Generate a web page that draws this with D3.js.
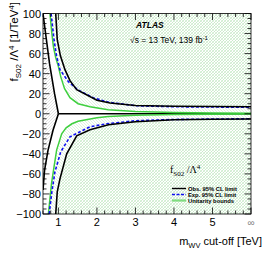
<!DOCTYPE html>
<html><head><meta charset="utf-8">
<script src="https://cdn.jsdelivr.net/npm/d3@7"></script>
<style>body{margin:0;background:#fff}svg{display:block}text{font-family:"Liberation Sans",Arial,sans-serif}</style>
</head><body>
<svg id="c" width="266" height="255"></svg>
<script>
// ---- data ----
const xTickVals = [1, 2, 3, 4, 5, 6];
const xTickLabels = ["1", "2", "3", "4", "5", "\u221E"];
const yTickVals = [-100, -80, -60, -40, -20, 0, 20, 40, 60, 80, 100];
const cutoffObsUpper = [0.93, 0.97, 1.05, 1.17, 1.3, 1.475, 2.0, 2.34, 3, 4, 5, 6];
const obsUpper       = [100, 74, 58, 44, 33, 24, 13.5, 10.7, 8.2, 7.5, 7.2, 7];
const cutoffObsLower = [0.93, 0.97, 1.04, 1.215, 1.475, 1.82, 2.3, 3, 4, 5, 6];
const obsLower       = [-100, -78, -65, -40, -22, -16, -11, -8, -6, -5.5, -5.2];
const cutoffExpUpper = [0.81, 0.886, 0.95, 1.04, 1.26, 1.5, 1.9, 2.3, 3, 4, 5, 6];
const expUpper       = [100, 74, 58, 44, 32, 24, 16, 11.5, 8, 7, 6.7, 6.5];
const cutoffExpLower = [0.76, 0.83, 0.91, 1.06, 1.3, 1.82, 2.25, 3, 4, 5, 6];
const expLower       = [-100, -78, -58, -38, -23, -13, -10, -7, -5.7, -5.3, -5];
const cutoffUnitUpper = [0.78, 0.83, 0.87, 0.93, 1.0, 1.06, 1.16, 1.3, 1.51, 1.82, 2.29, 3, 4, 5, 6];
const unitUpper       = [100, 80, 67, 56, 47, 37, 25, 16, 10, 7, 4, 2.2, 1.2, 0.7, 0.5];
const cutoffUnitLower = [0.74, 0.82, 0.89, 0.955, 1.085, 1.2, 1.35, 1.51, 2.0, 2.29, 3, 4, 5, 6];
const unitLower       = [-100, -70, -52, -36, -20, -14, -10, -7.5, -4, -2.8, -1.5, -0.8, -0.5, -0.3];
const cutoffBoundUpper = [0.6, 0.69, 0.77, 0.9, 1.0];
const boundUpper       = [100, 73.5, 50, 20, 0];
const cutoffBoundLower = [1.0, 0.86, 0.73, 0.64, 0.6];
const boundLower       = [0, -16.5, -36.5, -56.5, -76];

const zip = (a, b) => a.map((v, i) => [v, b[i]]);

const svg = d3.select("#c");
const L = 43, R = 251, T = 13.5, B = 214;
const x = d3.scaleLinear([0.6, 6], [L, R]);
const y = d3.scaleLinear([-100, 100], [B, T]);

const defs = svg.append("defs");
defs.append("clipPath").attr("id", "clip").append("rect")
  .attr("x", L).attr("y", T).attr("width", R - L).attr("height", B - T);
function hatch(id, color, dir, w) {
  const p = defs.append("pattern").attr("id", id).attr("patternUnits", "userSpaceOnUse")
    .attr("width", 3).attr("height", 3);
  p.append("path").attr("d", dir > 0 ? "M-1,1 L1,-1 M0,3 L3,0 M2,4 L4,2" : "M-1,2 L1,4 M0,0 L3,3 M2,-1 L4,1")
    .attr("stroke", color).attr("stroke-width", w).attr("fill", "none");
}
hatch("hUnit", "#d3eed3", -1, 0.7);
hatch("hExcl", "#bde5bd", 1, 0.7);
hatch("hGrey", "#cfcfcf", 1, 0.6);

const line = d3.line().x(d => x(d[0])).y(d => y(d[1]));
const g = svg.append("g").attr("clip-path", "url(#clip)");

// hatched regions
const unitU = zip(cutoffUnitUpper, unitUpper), unitL = zip(cutoffUnitLower, unitLower);
const obsU = zip(cutoffObsUpper, obsUpper), obsL = zip(cutoffObsLower, obsLower);
const expU = zip(cutoffExpUpper, expUpper), expL = zip(cutoffExpLower, expLower);
const bU = zip(cutoffBoundUpper, boundUpper), bL = zip(cutoffBoundLower, boundLower);

g.append("path").attr("d", line([...unitU, [6, 100]]) + "Z").attr("fill", "url(#hUnit)");
g.append("path").attr("d", line([...unitL, [6, -100]]) + "Z").attr("fill", "url(#hUnit)");
g.append("path").attr("d", line([...obsU, [6, 100]]) + "Z").attr("fill", "url(#hExcl)");
g.append("path").attr("d", line([...obsL, [6, -100]]) + "Z").attr("fill", "url(#hExcl)");
g.append("path").attr("d", line([...bU, ...bL.slice(1), [0.6, -100]]) + "Z").attr("fill", "url(#hGrey)");

// lines
g.append("path").attr("d", line([[1.0, 0], [6, 0]])).attr("stroke", "#000").attr("stroke-width", 1.6).attr("fill", "none");
[unitU, unitL].forEach(d => g.append("path").attr("d", line(d)).attr("stroke", "#3fcf3f").attr("stroke-width", 1.5).attr("fill", "none"));
[expU, expL].forEach(d => g.append("path").attr("d", line(d)).attr("stroke", "#1010f0").attr("stroke-width", 1.6).attr("stroke-dasharray", "3,2").attr("fill", "none"));
[obsU, obsL, bU, bL].forEach(d => g.append("path").attr("d", line(d)).attr("stroke", "#000").attr("stroke-width", 1.6).attr("fill", "none"));

// frame & ticks
const ax = svg.append("g").attr("stroke", "#000").attr("stroke-width", 0.8);
ax.append("rect").attr("x", L).attr("y", T).attr("width", R - L).attr("height", B - T).attr("fill", "none");
const xMinor = d3.range(0.6, 6.001, 0.2);
xMinor.forEach(v => {
  const maj = Math.abs(v - Math.round(v)) < 1e-6;
  const len = maj ? 6.5 : 3.5;
  ax.append("line").attr("x1", x(v)).attr("x2", x(v)).attr("y1", B).attr("y2", B - len);
  ax.append("line").attr("x1", x(v)).attr("x2", x(v)).attr("y1", T).attr("y2", T + len);
});
d3.range(-100, 100.001, 5).forEach(v => {
  const maj = v % 20 === 0;
  const len = maj ? 6.5 : 3.5;
  ax.append("line").attr("x1", L).attr("x2", L + len).attr("y1", y(v)).attr("y2", y(v));
  ax.append("line").attr("x1", R).attr("x2", R - len).attr("y1", y(v)).attr("y2", y(v));
});

// tick labels
xTickVals.forEach((v, i) => {
  svg.append("text").attr("x", x(v)).attr("y", 226).attr("text-anchor", "middle")
    .attr("font-size", i === 5 ? 10 : 11).attr("fill", i === 5 ? "#888" : "#000").text(xTickLabels[i]);
});
yTickVals.forEach(v => {
  svg.append("text").attr("x", 41).attr("y", y(v) + 4).attr("text-anchor", "end")
    .attr("font-size", 11).text(v < 0 ? "\u2212" + Math.abs(v) : String(v));
});

// axis titles
const xt = svg.append("text").attr("x", 262).attr("y", 245).attr("text-anchor", "end").attr("font-size", 11);
xt.append("tspan").text("m");
xt.append("tspan").attr("font-size", 7.5).attr("dy", 2.5).text("WV");
xt.append("tspan").attr("dy", -2.5).text(" cut-off [TeV]");

const yt = svg.append("text").attr("transform", "translate(18,2) rotate(-90)").attr("text-anchor", "end").attr("font-size", 11.5);
yt.append("tspan").text("f");
yt.append("tspan").attr("font-size", 8).attr("dy", 2.5).text("S02");
yt.append("tspan").attr("dy", -2.5).text(" /\u039B");
yt.append("tspan").attr("font-size", 8).attr("dy", -4.5).text("4");
yt.append("tspan").attr("dy", 4.5).text(" [1/TeV");
yt.append("tspan").attr("font-size", 8).attr("dy", -4.5).text("4");
yt.append("tspan").attr("dy", 4.5).text("]");

// ATLAS labels
svg.append("text").attr("x", 136).attr("y", 28).attr("font-size", 8.5).attr("font-weight", "bold").attr("font-style", "italic").text("ATLAS");
const en = svg.append("text").attr("x", 130).attr("y", 43).attr("font-size", 8.5);
en.append("tspan").text("\u221As = 13 TeV, 139 fb");
en.append("tspan").attr("font-size", 6).attr("dy", -3.5).text("-1");

// legend
const lt = svg.append("text").attr("x", 170).attr("y", 173).attr("font-size", 10).style("font-family", "'Liberation Serif',serif");
lt.append("tspan").text("f");
lt.append("tspan").attr("font-size", 7).attr("dy", 2.5).text("S02");
lt.append("tspan").attr("dy", -2.5).text(" /\u039B");
lt.append("tspan").attr("font-size", 7).attr("dy", -4).text("4");

const legItems = [
  {label: "Obs. 95% CL limit", color: "#000", dash: null, w: 1.4},
  {label: "Exp. 95% CL limit", color: "#1010f0", dash: "3,1.5", w: 1.4},
  {label: "Unitarity bounds", color: "#7fdc7f", dash: null, w: 2.2}
];
const legY = [188.5, 194.5, 200.5];
legItems.forEach((it, i) => {
  svg.append("line").attr("x1", 172).attr("x2", 186).attr("y1", legY[i]).attr("y2", legY[i])
    .attr("stroke", it.color).attr("stroke-width", it.w).attr("stroke-dasharray", it.dash);
  svg.append("text").attr("x", 188).attr("y", legY[i] + 2).attr("font-size", 5.8).attr("font-weight", "bold").text(it.label);
});
</script>
</body></html>
